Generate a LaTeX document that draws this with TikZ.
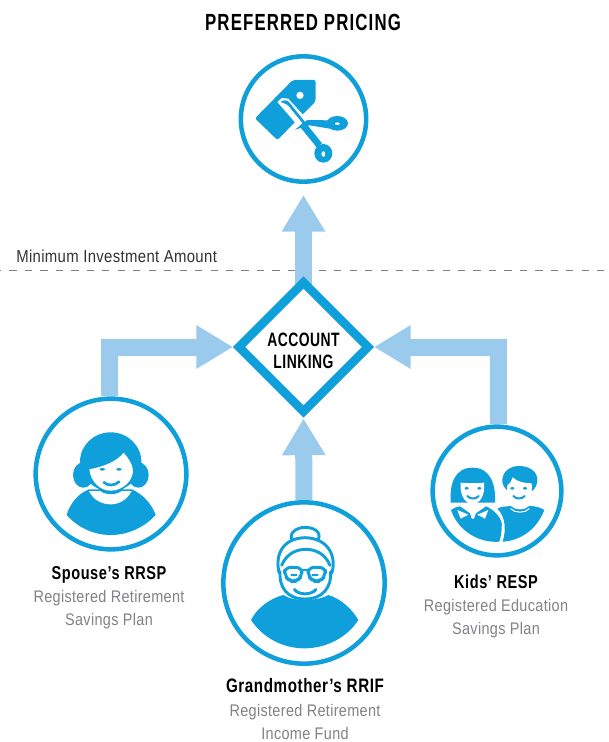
\documentclass[tikz,border=0pt]{standalone}
\usepackage{fontspec}
\setmainfont{Liberation Sans}
\newfontfamily\lightcond[FakeStretch=0.86,LetterSpace=2]{Liberation Sans}
\newfontfamily\boldcond[FakeStretch=0.72,LetterSpace=2.5]{Liberation Sans Bold}
\newfontfamily\boldhead[FakeStretch=0.78,LetterSpace=3]{Liberation Sans Bold}
\newfontfamily\boldtitle[FakeStretch=0.72,LetterSpace=5]{Liberation Sans Bold}
\usetikzlibrary{arrows.meta,shapes.geometric,backgrounds}
\definecolor{iconblue}{HTML}{0F9FDA}
\definecolor{arrowblue}{HTML}{9BCBEC}
\definecolor{greytext}{HTML}{808285}
\definecolor{dashgrey}{HTML}{7F7F7F}
\tikzset{
  ring/.style={circle,draw=iconblue,fill=white,line width=3.4pt,inner sep=0pt,outer sep=1.7pt},
  hub/.style={diamond,aspect=1,draw=iconblue,fill=white,line width=6.4pt,inner sep=0pt,minimum size=96.75pt,outer sep=0pt},
  hubtext/.style={align=center,font=\boldcond\fontsize{14.5}{16}\selectfont,text=black,inner sep=0pt},
  flow/.style={arrowblue,line width=12.75pt,-{Triangle[length=27.5pt,width=30.8pt]}},
  head/.style={font=\boldhead\fontsize{14}{15}\selectfont,text=black,inner sep=0pt},
  title/.style={font=\boldtitle\fontsize{17.5}{18}\selectfont,text=black,inner sep=0pt},
  sub/.style={font=\lightcond\fontsize{12.6}{17.6}\selectfont,text=greytext,align=center,inner sep=0pt},
  note/.style={font=\lightcond\fontsize{13}{15}\selectfont,text=black!80,inner sep=0pt},
  ic/.style={fill=iconblue,draw=none},
  wh/.style={fill=white,draw=none},
  ln/.style={draw=iconblue,line width=2.2pt,line cap=round,line join=round}
}
\begin{document}
\begin{tikzpicture}[x=0.75pt,y=-0.75pt]
\useasboundingbox (0,0) rectangle (609,742);

\node[title,anchor=base] (ttl) at (303,31) {PREFERRED PRICING};
\node[ring,minimum size=94pt] (price) at (303.5,119) {};
\node[hub] (hub) at (303.5,347) {};
\node[hubtext] (hubt) at (303.5,351) {ACCOUNT\\[1pt]LINKING};
\node[ring,minimum size=113pt] (spouse) at (111,474) {};
\node[ring,minimum size=121pt] (gran) at (304,583) {};
\node[ring,minimum size=96.5pt] (kids) at (497,491) {};

\coordinate (dashL) at (0,270);
\coordinate (dashR) at (609,270);
\coordinate (toLeft) at (233,347);
\coordinate (toRight) at (374,347);
\coordinate (toBottom) at (303.5,418.5);
\coordinate (toPrice) at (303.5,195);

\begin{pgfonlayer}{background}
\fill[white] (0,0) rectangle (609,742);
\draw[dashgrey,line width=0.75pt,dash pattern=on 5.4pt off 6.2pt,dash phase=4.5pt] (dashL) -- (dashR);
\draw[flow] (hub.center) -- (toPrice);
\draw[flow] ([xshift=-1pt]spouse.north) |- (toLeft);
\draw[flow] ([xshift=0.8pt]kids.north) |- (toRight);
\draw[flow] (gran.north) -- (toBottom);
\end{pgfonlayer}

\node[note,anchor=base west] (min) at (16,262) {Minimum Investment Amount};

\node[head,anchor=base] (l1) at (109,579) {Spouse’s RRSP};
\node[sub,anchor=north] (l1b) at (109,590) {Registered Retirement\\Savings Plan};
\node[head,anchor=base,font=\boldhead\fontsize{14.6}{15}\selectfont] (l2) at (305,692) {Grandmother’s RRIF};
\node[sub,anchor=north] (l2b) at (305,704) {Registered Retirement\\Income Fund};
\node[head,anchor=base] (l3) at (496,588) {Kids’ RESP};
\node[sub,anchor=north] (l3b) at (496,599) {Registered Education\\Savings Plan};

% --- price tag and scissors
\begin{scope}[shift={(220,40)},scale=1/3]
\fill[ic,rounded corners=1.5pt] (218,120) -- (287,120) -- (287,184) -- (172,300) -- (105,235) -- cycle;
\fill[wh] (240,166) circle[radius=11];
\fill[wh] (172,186) -- (186,174) -- (205,176) -- (290,270) -- (262,290) -- cycle;
\fill[wh] (215,272) -- (270,236) -- (300,260) -- cycle;
\fill[ic] (182,186) .. controls (190,178) and (202,180) .. (208,187) -- (306,310) -- (290,322) -- (238,258) -- (248,250) -- (204,196) .. controls (198,190) and (190,190) .. (182,186) -- cycle;
\fill[ic] (225,269) -- (262,240) -- (326,241) -- (330,266) -- (268,256) -- cycle;
\fill[ic,even odd rule] (352,250) circle[x radius=32,y radius=22] (352,251) circle[x radius=8,y radius=4];
\fill[ic,even odd rule] (310,340) circle[x radius=27,y radius=28] (310,342) circle[x radius=6,y radius=9];
\end{scope}

% --- spouse
\begin{scope}[shift={(20,380)},scale=1/3]
\fill[ic] (140,405) .. controls (150,370) and (175,340) .. (207,328) -- (335,328) .. controls (365,340) and (395,370) .. (407,405) .. controls (370,445) and (320,465) .. (272,465) .. controls (225,465) and (175,445) .. (140,405) -- cycle;
\fill[wh] (207,333) -- (335,333) .. controls (320,362) and (295,373) .. (272,373) .. controls (245,373) and (220,360) .. (207,333) -- cycle;
\fill[ic] (190,285) circle[x radius=31,y radius=38];
\fill[ic] (355,285) circle[x radius=31,y radius=38];
\fill[ic] (272,245) circle[x radius=92,y radius=88];
\fill[ic] (232,320) .. controls (240,350) and (305,350) .. (314,320) -- cycle;
\fill[wh] (208,268) .. controls (250,260) and (290,245) .. (311,218) .. controls (325,235) and (345,260) .. (337,285) .. controls (330,312) and (300,332) .. (272,332) .. controls (240,332) and (212,305) .. (208,268) -- cycle;
\fill[ic] (247,268) circle[x radius=8,y radius=4];
\fill[ic] (297,268) circle[x radius=8,y radius=4];
\draw[ln,line width=2pt] (252,307) .. controls (262,318) and (285,318) .. (297,305);
\end{scope}

% --- grandmother
\begin{scope}[shift={(215,490)},scale=1/3]
\fill[ic] (108,390) .. controls (125,355) and (165,325) .. (205,315) .. controls (235,335) and (305,335) .. (340,315) .. controls (375,325) and (410,355) .. (430,390) .. controls (395,445) and (330,475) .. (268,475) .. controls (205,475) and (145,445) .. (108,390) -- cycle;
\draw[ln] (230,148) .. controls (222,125) and (250,112) .. (270,112) .. controls (295,112) and (320,125) .. (310,148);
\draw[ln] (193,250) .. controls (180,205) and (195,145) .. (270,143) .. controls (345,145) and (365,205) .. (350,250);
\draw[ln] (200,226) .. controls (215,190) and (245,178) .. (272,178) .. controls (300,178) and (330,190) .. (345,226);
\draw[ln] (195,245) .. controls (192,290) and (215,327) .. (270,327) .. controls (325,327) and (350,290) .. (347,245);
\fill[wh] (209,232) rectangle (332,272);
\draw[ln,rounded corners=4.5pt] (209,232) -- (261,232) -- (261,258) -- (245,274) -- (225,274) -- (209,258) -- cycle;
\draw[ln,rounded corners=4.5pt] (279,232) -- (331,232) -- (331,258) -- (315,274) -- (295,274) -- (279,258) -- cycle;
\draw[ln] (261,240) -- (279,240);
\draw[ln,line width=1.3pt] (229,256) -- (245,256);
\draw[ln,line width=1.3pt] (292,256) -- (308,256);
\draw[ln] (238,298) .. controls (250,316) and (290,316) .. (303,298);
\end{scope}

% --- kids
\begin{scope}[shift={(420,420)},scale=1/3]
\fill[ic] (92,248) .. controls (88,190) and (105,143) .. (158,143) .. controls (212,143) and (228,195) .. (225,248) -- cycle;
\fill[wh] (122,188) .. controls (150,190) and (170,190) .. (192,188) .. controls (196,225) and (180,252) .. (158,252) .. controls (136,252) and (118,225) .. (122,188) -- cycle;
\fill[ic] (140,205) circle[x radius=6,y radius=4];
\fill[ic] (178,205) circle[x radius=6,y radius=4];
\draw[ln,line width=1.5pt] (142,228) .. controls (150,238) and (168,238) .. (176,228);
\fill[ic] (93,270) .. controls (100,262) and (110,262) .. (120,259) -- (150,280) -- (155,296) -- (162,296) -- (168,280) -- (198,259) .. controls (225,270) and (250,300) .. (245,320) .. controls (245,340) and (242,352) .. (238,365) .. controls (180,370) and (115,335) .. (93,270) -- cycle;
\fill[wh] (112,270) -- (145,284) -- (122,296) -- cycle;
\fill[wh] (205,270) -- (172,284) -- (195,296) -- cycle;
\fill[ic] (247,178) .. controls (250,150) and (275,138) .. (297,138) .. controls (330,138) and (352,155) .. (352,180) .. controls (352,195) and (345,205) .. (338,212) -- (262,212) .. controls (250,200) and (246,190) .. (247,178) -- cycle;
\fill[wh] (278,172) .. controls (290,185) and (315,190) .. (335,190) .. controls (340,225) and (320,250) .. (297,250) .. controls (275,250) and (257,228) .. (262,195) .. controls (270,192) and (275,182) .. (278,172) -- cycle;
\fill[ic] (277,205) circle[x radius=6,y radius=4];
\fill[ic] (315,205) circle[x radius=6,y radius=4];
\draw[ln,line width=1.5pt] (280,228) .. controls (288,238) and (306,238) .. (314,228);
\fill[ic] (232,266) .. controls (245,258) and (260,260) .. (272,258) .. controls (285,272) and (315,272) .. (328,258) .. controls (345,258) and (360,262) .. (373,270) .. controls (350,330) and (300,362) .. (248,365) .. controls (258,335) and (258,290) .. (232,266) -- cycle;
\draw[draw=white,line width=.8pt] (272,266) .. controls (285,280) and (315,280) .. (328,266);
\end{scope}
\end{tikzpicture}
\end{document}
